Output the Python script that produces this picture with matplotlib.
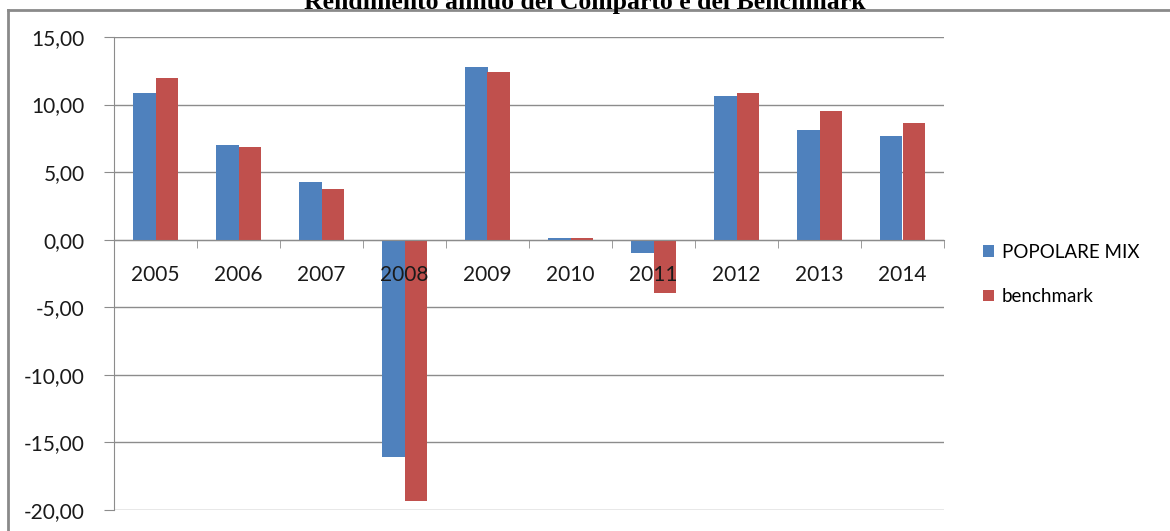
import matplotlib
matplotlib.use("Agg")
import matplotlib.pyplot as plt
import numpy as np
from matplotlib.lines import Line2D
from matplotlib.patches import Patch
from matplotlib.ticker import FixedLocator, FuncFormatter

anni = ["2005", "2006", "2007", "2008", "2009", "2010", "2011", "2012", "2013", "2014"]
popolare_mix = [10.85, 7.00, 4.25, -16.10, 12.75, 0.10, -0.95, 10.65, 8.10, 7.70]
benchmark = [12.00, 6.85, 3.75, -19.30, 12.40, 0.10, -3.95, 10.85, 9.50, 8.65]
y_ticks = [15, 10, 5, 0, -5, -10, -15, -20]

BLU = "#4F81BD"
ROSSO = "#C0504D"
GRIGIO = "#8C8C8C"

plt.rcParams["font.family"] = ["Lato", "DejaVu Sans"]

fig = plt.figure(figsize=(11.7, 5.31), dpi=100)
ax = fig.add_axes([114 / 1170, 1 - 510 / 531, 830 / 1170, 473 / 531])

x = np.arange(len(anni))
w = 0.277
ax.bar(x - w / 2, popolare_mix, width=w, color=BLU, zorder=3)
ax.bar(x + w / 2, benchmark, width=w, color=ROSSO, zorder=3)

ax.set_xlim(-0.5, len(anni) - 0.5)
ax.set_ylim(-20, 15)
ax.set_yticks(y_ticks)
ax.yaxis.set_major_formatter(FuncFormatter(lambda v, p: f"{v:.2f}".replace(".", ",")))
ax.grid(axis="y", color=GRIGIO, linewidth=1.0, zorder=0)

ax.spines["top"].set_visible(False)
ax.spines["right"].set_visible(False)
ax.spines["bottom"].set_position(("data", 0))
ax.spines["bottom"].set_color(GRIGIO)
ax.spines["bottom"].set_zorder(4)
ax.spines["left"].set_color(GRIGIO)

ax.set_xticks(x)
ax.set_xticklabels(anni)
ax.xaxis.set_minor_locator(FixedLocator(np.arange(len(anni) + 1) - 0.5))
ax.tick_params(axis="x", which="major", length=0, pad=18, labelsize=15, labelcolor="#1a1a1a")
ax.tick_params(axis="x", which="minor", length=6, color=GRIGIO, direction="out")
ax.tick_params(axis="y", length=7, color=GRIGIO, labelsize=15, labelcolor="#1a1a1a", pad=14)
# etichette delle categorie sopra le barre, come nel grafico Excel
ax.xaxis.set_zorder(5)

handles = [Patch(facecolor=BLU, label="POPOLARE MIX"), Patch(facecolor=ROSSO, label="benchmark")]
fig.legend(handles=handles, loc="upper left", bbox_to_anchor=(966 / 1170, 1 - 227 / 531),
           frameon=False, fontsize=13.5, handlelength=0.6, handleheight=0.6,
           handletextpad=0.4, labelspacing=1.45)

# cornice del grafico
fig.add_artist(Line2D([8 / 1170, 1], [1 - 10 / 531, 1 - 10 / 531], color="#8a8a8a", linewidth=2))
fig.add_artist(Line2D([8 / 1170, 8 / 1170], [0, 1 - 10 / 531], color="#8a8a8a", linewidth=2))

fig.text(585 / 1170, 1 - 2 / 531, "Rendimento annuo del Comparto e del Benchmark",
         ha="center", va="center", fontsize=18.5, fontweight="bold",
         family="Liberation Serif")

fig.savefig("out.png", dpi=100)
